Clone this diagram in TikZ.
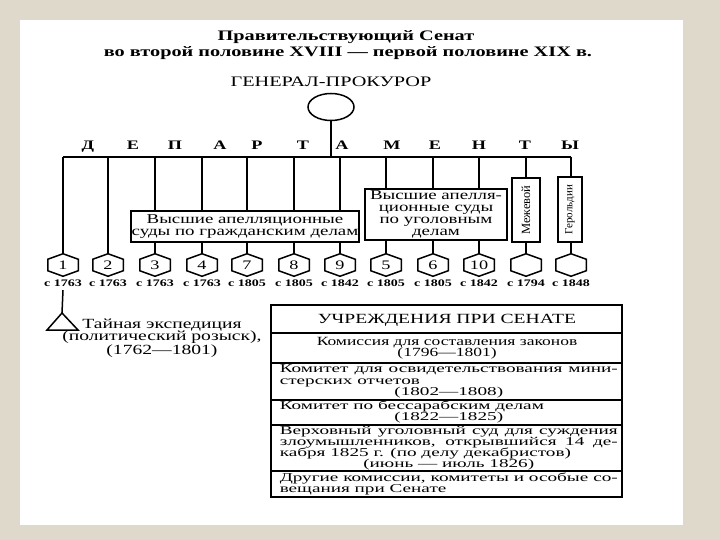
\documentclass[tikz,border=0pt]{standalone}
\usepackage{fontspec}
\setmainfont{Liberation Serif}[FakeStretch=1.4]
\newfontfamily\plainserif{Liberation Serif}
\newfontfamily\tblfont{Liberation Serif}[FakeStretch=1.6]
\usetikzlibrary{shapes.geometric}
\definecolor{paper}{RGB}{223,217,204}
\newcommand\yrline[1]{\makebox[338pt]{#1}}

\begin{document}
\begin{tikzpicture}[x=1pt,y=-1pt,line width=1.5pt,
    every node/.style={inner sep=0pt},
    hex/.style={minimum width=29pt,minimum height=21pt,font=\fontsize{13}{13}\selectfont},
    year/.style={font=\bfseries\fontsize{10}{10}\selectfont},
    court/.style={draw,fill=white,align=center,font=\fontsize{13.5}{12}\selectfont},
    dept/.style={anchor=base,font=\bfseries\fontsize{13}{13}\selectfont},
    tbl/.style={font=\fontsize{12.5}{11.2}\selectfont},
    row/.style={font=\tblfont\fontsize{12}{11.2}\selectfont,text width=338pt,align=justify,anchor=west}]
  \useasboundingbox (0,0) rectangle (720,540);
  \fill[paper] (0,0) rectangle (720,540);
  \fill[white] (20,20) rectangle (683,525);

  \node[font=\bfseries\fontsize{14.5}{15}\selectfont] (title1) at (346,37) {Правительствующий Сенат};
  \node[font=\bfseries\fontsize{14.5}{15}\selectfont] (title2) at (348,53) {во второй половине XVIII — первой половине XIX в.};
  \node[font=\fontsize{14.5}{15}\selectfont] (gp) at (331,82) {ГЕНЕРАЛ-ПРОКУРОР};
  \node[draw,ellipse,minimum width=46pt,minimum height=27pt] (gpc) at (331,107) {};
  \coordinate (trunk) at (331,157);

  % департаменты
  \foreach \l/\x in {Д/88,Е/133,П/175,А/220,Р/257,Т/303,А/342,М/392,Е/435,Н/479,Т/525,Ы/570}
    \node[dept] (let\x) at (\x,150) {\l};

  \foreach \n/\x/\t/\yr in {1/63/1/1763,2/108/2/1763,3/155/3/1763,4/202/4/1763,7/247/7/1805,8/294/8/1805,9/340/9/1842,5/386/5/1805,6/433/6/1805,10/479/10/1842,mz/526//1794,gr/571//1848} {
    \node[hex] (h\n) at (\x,265) {\t};
    \node[year] (y\n) at (\x,283) {с \yr};
    \coordinate (b\n) at (\x,157);
    \draw (b\n) -- (h\n.north);
    \draw (h\n.north) -- ([yshift=-5.5pt]h\n.north east) -- ([yshift=5.5pt]h\n.south east)
      -- (h\n.south) -- ([yshift=5.5pt]h\n.south west) -- ([yshift=-5.5pt]h\n.north west) -- cycle;
  }
  \draw (gpc.south) -- (trunk);
  \draw (b1) -- (bgr);

  % суды
  \node[court,minimum width=228pt,minimum height=31pt] (civ) at (245,226.5) {Высшие апелляционные\\суды по гражданским делам};
  \node[court,minimum width=142pt,minimum height=51pt] (crim) at (436,214.5) {Высшие апелля-\\ционные суды\\по уголовным\\делам};
  \node[court,rotate=90,minimum width=64pt,minimum height=28pt,font=\plainserif\fontsize{12.5}{12}\selectfont] (mezh) at (526,210) {Межевой};
  \node[court,rotate=90,minimum width=65pt,minimum height=24pt,font=\plainserif\fontsize{11}{11}\selectfont] (gerold) at (570,209.5) {Герольдии};

  % тайная экспедиция
  \coordinate (tri) at (62,313);
  \draw ([yshift=-3pt]y1.south) -- (tri);
  \draw (tri) -- (78,330) -- (47,330) -- cycle;
  \node[align=center,font=\fontsize{14}{12.5}\selectfont] (secret) at (162,338) {Тайная экспедиция\\(политический розыск),\\(1762—1801)};

  % учреждения при сенате
  \draw (271,305) rectangle (622,497);
  \foreach \y in {333,363,400,425,471}
    \draw (271,\y) -- (622,\y);
  \node[tbl,font=\fontsize{14}{12}\selectfont] (inst) at (447,320) {УЧРЕЖДЕНИЯ ПРИ СЕНАТЕ};
  \node[tbl,align=center] (laws) at (447,348.5) {Комиссия для составления законов\\(1796—1801)};
  \node[row] (rep) at (279,381.5) {Комитет для освидетельствования мини-\linebreak стерских отчетов\\\yrline{(1802—1808)}};
  \node[row] (bess) at (279,412) {Комитет по бессарабским делам\\\yrline{(1822—1825)}};
  \node[row] (court) at (279,448) {Верховный уголовный суд для суждения\linebreak злоумышленников, открывшийся 14 де-\linebreak кабря 1825 г. (по делу декабристов)\\\yrline{(июнь — июль 1826)}};
  \node[row] (other) at (279,484) {Другие комиссии, комитеты и особые со-\linebreak вещания при Сенате};
\end{tikzpicture}
\end{document}
